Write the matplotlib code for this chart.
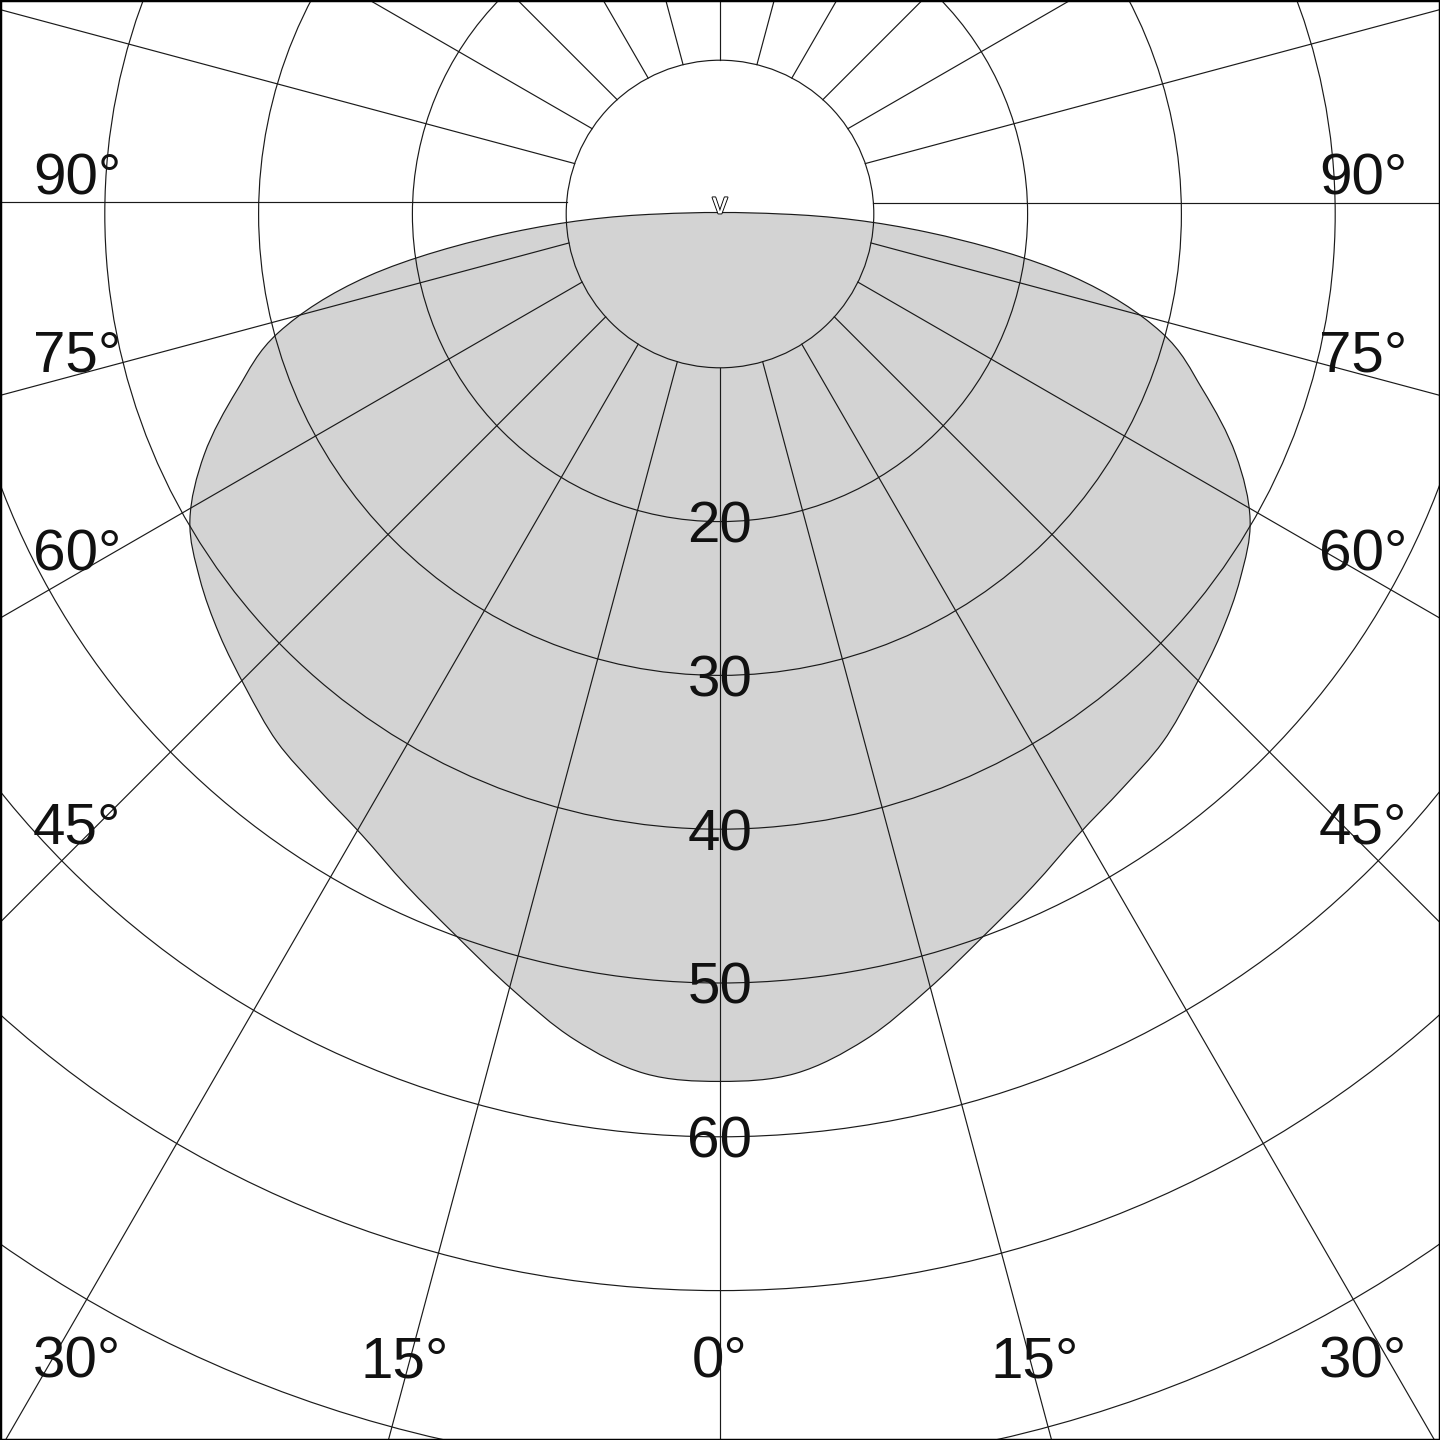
import numpy as np
import matplotlib
matplotlib.use("Agg")
import matplotlib.pyplot as plt
import matplotlib.patheffects as pe
from matplotlib.patches import Circle, PathPatch, Rectangle
from matplotlib.path import Path

# luminous intensity curve (same for both half planes), gamma measured from nadir
gamma_deg = [0, 5, 10, 15, 20, 25, 30, 35, 40, 45, 50, 55, 60, 65, 70, 75, 80, 85, 90]
intensity = [56.4, 56.1, 54.5, 52.2, 50.0, 48.2, 46.6, 45.6, 44.8, 43.6, 42.5, 41.3, 39.8, 37.0,
             33.4, 29.7, 23.2, 13.5, 4.0]
top_value = 0.1   # value straight up (gamma 180)

ring_values = [10, 20, 30, 40, 50, 60, 70, 81.7]
ring_labels = [20, 30, 40, 50, 60]
spoke_angles = [0, 15, 30, 45, 60, 75, 90, 105, 120, 135, 150, 165, 180,
                195, 210, 225, 240, 255, 270, 285, 300, 315, 330, 345]
side_labels = [90, 75, 60, 45]
bottom_labels = [30, 15, 0]

W = 1440
px = 15.38            # pixels per intensity unit
oy = 202.5            # pixel row of the spoke origin
cy = -(214 - oy) / px  # ring centre sits a little below the spoke origin

fig = plt.figure(figsize=(14.4, 14.4), dpi=100)
ax = fig.add_axes([0, 0, 1, 1])
ax.set_xlim(-W / 2 / px, W / 2 / px)
ax.set_ylim(-(W - oy) / px, oy / px)
ax.axis("off")

lc = "#1a1a1a"
lw = 0.85

# filled curve, drawn as cubic pieces that follow r(gamma) smoothly
g = np.radians(gamma_deg)
r = np.array(intensity)
n = len(r)
dr = np.zeros(n)
dr[1:-1] = (r[2:] - r[:-2]) / (g[2:] - g[:-2])
dr[-1] = (r[-1] - r[-2]) / (g[-1] - g[-2])
P = np.column_stack([-r * np.sin(g), cy - r * np.cos(g)])
T = np.column_stack([-(dr * np.sin(g) + r * np.cos(g)), r * np.sin(g) - dr * np.cos(g)])

segs = []
for i in range(n - 1):
    h = g[i + 1] - g[i]
    segs.append((P[i], P[i] + T[i] * h / 3, P[i + 1] - T[i + 1] * h / 3, P[i + 1]))

def mirror(p):
    return np.array([-p[0], p[1]])

verts = [P[0]]
codes = [Path.MOVETO]
for s in segs:
    verts += [s[1], s[2], s[3]]
    codes += [Path.CURVE4] * 3
xe = P[-1][0]
hy = top_value / 0.75
verts += [np.array([xe / 3, cy + hy]), np.array([-xe / 3, cy + hy]), mirror(P[-1])]
codes += [Path.CURVE4] * 3
for s in segs[::-1]:
    verts += [mirror(s[2]), mirror(s[1]), mirror(s[0])]
    codes += [Path.CURVE4] * 3
verts.append(P[0])
codes.append(Path.CLOSEPOLY)
ax.add_patch(PathPatch(Path(verts, codes), facecolor="#d3d3d3", edgecolor=lc, lw=lw, zorder=1))

# rings
for rv in ring_values:
    ax.add_patch(Circle((0, cy), rv, fill=False, edgecolor=lc, lw=lw, zorder=2))

# spokes start on the inner ring
R0 = ring_values[0]
for a in spoke_angles:
    t = np.radians(a)
    d = np.array([np.sin(t), -np.cos(t)])
    dc = d[1] * cy
    t0 = dc + np.sqrt(dc ** 2 - cy ** 2 + R0 ** 2)
    ax.plot([t0 * d[0], 200 * d[0]], [t0 * d[1], 200 * d[1]], color=lc, lw=lw, zorder=2)

font = dict(family=["Liberation Sans", "DejaVu Sans"], fontsize=42, color="#111111")

# ring value labels
for rv in ring_labels:
    ax.text(0, cy - rv - 21 / px, str(rv), ha="center", va="baseline", zorder=4, **font)

# side angle labels
xc = 645 / px
for a in side_labels:
    t = np.radians(a)
    yb = -xc / np.tan(t) if a != 90 else 0.0
    yb += (4 if a != 90 else 8) / px
    ax.text(-(720 - 33) / px, yb, f"{a}°", ha="left", va="baseline", zorder=4, **font)
    ax.text((720 - 33) / px, yb, f"{a}°", ha="right", va="baseline", zorder=4, **font)

# bottom angle labels
yb = -(1378 - oy) / px
for a in bottom_labels:
    xs_ = -yb * np.tan(np.radians(a))
    if xs_ * px > 720 - 33 - 45:
        ax.text(-(720 - 33) / px, yb, f"{a}°", ha="left", va="baseline", zorder=4, **font)
        ax.text((720 - 33) / px, yb, f"{a}°", ha="right", va="baseline", zorder=4, **font)
    elif a == 0:
        ax.text(0, yb, f"{a}°", ha="center", va="baseline", zorder=4, **font)
    else:
        ax.text(-xs_, yb, f"{a}°", ha="center", va="baseline", zorder=4, **font)
        ax.text(xs_, yb, f"{a}°", ha="center", va="baseline", zorder=4, **font)

# small marker at the origin
ax.text(0, -3 / px, "v", ha="center", va="center", fontsize=22, color="white",
        family="Liberation Sans", zorder=5,
        path_effects=[pe.withStroke(linewidth=1.3, foreground="black")])

fig.patches.append(Rectangle((0, 0), 1, 1, transform=fig.transFigure, fill=False,
                             edgecolor="black", lw=2.5))

fig.savefig("out.png", dpi=100, facecolor="white")
